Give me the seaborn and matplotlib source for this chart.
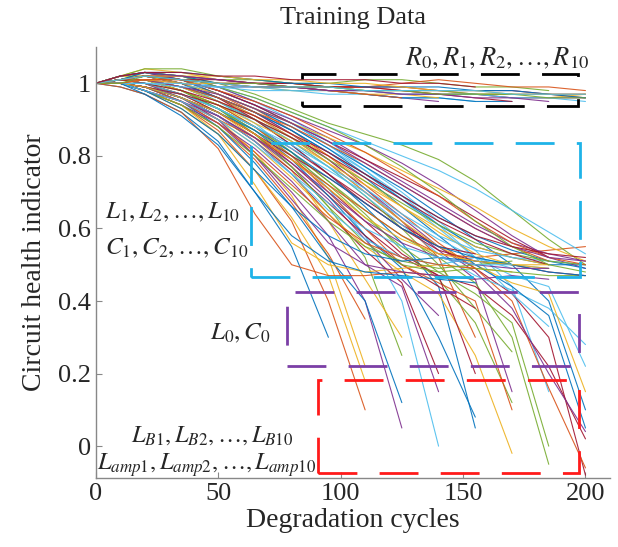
import pandas as pd
import matplotlib
matplotlib.use("Agg")
import matplotlib.pyplot as plt
import seaborn as sns
from matplotlib.patches import Rectangle

# ---------- style ----------
sns.set_style("ticks")
plt.rcParams["font.family"] = ["Liberation Serif", "DejaVu Serif"]
plt.rcParams["mathtext.fontset"] = "stix"

# ---------- data ----------
cycles = [0, 10, 20, 35, 50, 65, 80, 95, 110, 125, 140, 155, 170, 185, 200]

# resistor faults: stay close to 1
r_curves = [
    [1, 1.01, 1.02, 1.02, 1.01, 1.00, 1.00, 0.99, 0.99, 0.98, 0.98, 0.97, 0.97, 0.97, 0.96],
    [1, 1.02, 1.04, 1.03, 1.01, 1.00, 0.99, 0.99, 0.98, 0.98, 0.97, 0.97, 0.96, 0.96, 0.97],
    [1, 1.00, 1.01, 1.00, 0.99, 0.99, 0.99, 0.98, 0.97, 0.96, 0.95],
    [1, 1.01, 1.03, 1.02, 1.01, 1.01, 1.00, 1.00, 1.01, 1.01, 1.00, 0.99, 0.99, 0.98],
    [1, 1.00, 1.00, 0.99, 0.99, 0.98, 0.98, 0.97, 0.97, 0.96, 0.96, 0.95],
    [1, 1.01, 1.02, 1.01, 1.00, 1.00, 1.00, 0.99, 0.99, 0.99, 0.98, 0.98, 0.98, 0.97, 0.97],
    [1, 1.02, 1.03, 1.02, 1.00, 0.99, 0.99, 0.98, 0.97, 0.96, 0.96, 0.95, 0.95],
    [1, 1.01, 1.01, 1.01, 1.00, 1.00, 0.99, 0.99, 0.99, 1.00, 1.01, 1.00, 0.99, 0.99, 0.98],
    [1, 1.00, 1.01, 1.00, 1.00, 0.99, 0.98, 0.98, 0.97, 0.97, 0.96],
    [1, 1.01, 1.02, 1.02, 1.01, 1.00, 0.99, 0.98, 0.98, 0.97, 0.97, 0.97, 0.96, 0.96, 0.96],
    [1, 1.02, 1.04, 1.04, 1.02, 1.01, 1.00, 0.99, 0.98, 0.98, 0.98, 0.97, 0.97],
    [1, 1.00, 1.00, 1.00, 0.99, 0.99, 0.98, 0.98, 0.98, 0.97, 0.97, 0.97, 0.96, 0.96, 0.95],
    [1, 1.01, 1.02, 1.01, 1.01, 1.00, 1.00, 0.99, 0.99, 0.98, 0.97, 0.96, 0.95],
    [1, 1.01, 1.03, 1.03, 1.02, 1.01, 1.00, 1.00, 0.99, 0.99, 0.99, 0.98, 0.98, 0.97, 0.96],
    [1, 1.00, 1.01, 1.01, 1.00, 0.99, 0.99, 0.98, 0.97, 0.96],
    [1, 1.01, 1.02, 1.02, 1.02, 1.01, 1.01, 1.00, 1.00, 0.99, 0.98, 0.98, 0.97, 0.97, 0.97],
    [1, 1.02, 1.03, 1.02, 1.01, 1.00, 0.99, 0.98, 0.98, 0.97, 0.97, 0.96, 0.96, 0.95],
    [1, 1.00, 1.02, 1.01, 1.00, 1.00, 0.99, 0.99, 0.98, 0.98, 0.97, 0.97, 0.97, 0.96, 0.96],
    [1, 1.01, 1.02, 1.01, 1.00, 0.99, 0.99, 0.99, 0.98, 0.98, 0.98, 0.98, 0.97, 0.97, 0.97],
    [1, 1.02, 1.03, 1.03, 1.02, 1.02, 1.01, 1.01, 1.01, 1.00, 1.00, 0.99],
]

# inductor / capacitor faults: level off around 0.5
lc_curves = [
    [1, 0.99, 0.97, 0.92, 0.82, 0.64, 0.50, 0.47, 0.47, 0.48, 0.47, 0.46],
    [1, 1.00, 0.98, 0.94, 0.86, 0.72, 0.56, 0.50, 0.48, 0.49, 0.50, 0.49, 0.48],
    [1, 1.01, 1.00, 0.96, 0.90, 0.80, 0.68, 0.56, 0.50, 0.48, 0.47, 0.46, 0.47, 0.46],
    [1, 1.01, 1.01, 0.98, 0.93, 0.86, 0.77, 0.66, 0.56, 0.50, 0.48, 0.49, 0.48, 0.47, 0.47],
    [1, 1.00, 0.99, 0.96, 0.91, 0.84, 0.75, 0.65, 0.57, 0.52, 0.50, 0.52, 0.50, 0.49],
    [1, 1.01, 1.02, 1.00, 0.96, 0.90, 0.83, 0.75, 0.67, 0.60, 0.54, 0.51, 0.50, 0.48, 0.47],
    [1, 1.02, 1.03, 1.01, 0.97, 0.93, 0.88, 0.82, 0.75, 0.68, 0.61, 0.55, 0.52, 0.50, 0.50],
    [1, 1.00, 0.98, 0.95, 0.90, 0.85, 0.79, 0.72, 0.65, 0.58, 0.53, 0.52, 0.53, 0.54, 0.55],
    [1, 1.01, 1.01, 0.99, 0.95, 0.91, 0.86, 0.80, 0.73, 0.66, 0.59, 0.53, 0.50, 0.49],
    [1, 1.01, 1.02, 1.02, 0.99, 0.95, 0.91, 0.87, 0.83, 0.78, 0.72, 0.65, 0.58, 0.52, 0.49],
    [1, 1.02, 1.03, 1.02, 1.00, 0.97, 0.93, 0.89, 0.86, 0.83, 0.79, 0.73, 0.65, 0.57, 0.50],
    [1, 1.00, 0.99, 0.97, 0.93, 0.88, 0.82, 0.76, 0.70, 0.63, 0.57, 0.52, 0.49],
    [1, 1.01, 1.00, 0.97, 0.92, 0.86, 0.80, 0.74, 0.67, 0.60, 0.55, 0.53],
    [1, 1.01, 1.02, 1.00, 0.96, 0.92, 0.87, 0.81, 0.75, 0.69, 0.63, 0.58, 0.54, 0.51, 0.49],
    [1, 1.00, 0.99, 0.95, 0.89, 0.81, 0.72, 0.63, 0.56, 0.52, 0.50, 0.49],
    [1, 1.01, 1.01, 0.98, 0.94, 0.89, 0.84, 0.78, 0.72, 0.66, 0.60, 0.55, 0.52, 0.50],
    [1, 1.02, 1.03, 1.01, 0.98, 0.94, 0.90, 0.85, 0.79, 0.73, 0.67, 0.61, 0.56, 0.53, 0.51],
    [1, 1.00, 0.98, 0.94, 0.88, 0.80, 0.71, 0.62, 0.55, 0.51, 0.49, 0.50, 0.51],
    [1, 1.01, 1.00, 0.97, 0.93, 0.88, 0.83, 0.77, 0.71, 0.64, 0.58, 0.54, 0.52, 0.51, 0.50],
    [1, 1.01, 1.02, 1.01, 0.98, 0.94, 0.89, 0.84, 0.79, 0.74, 0.69, 0.63, 0.57, 0.52],
    [1, 1.00, 0.99, 0.96, 0.92, 0.87, 0.81, 0.74, 0.67, 0.60, 0.55, 0.52, 0.50, 0.48, 0.47],
    [1, 1.01, 1.01, 0.99, 0.96, 0.92, 0.88, 0.83, 0.78, 0.72, 0.66, 0.60, 0.55, 0.51],
    [1, 1.02, 1.02, 1.00, 0.97, 0.93, 0.89, 0.85, 0.81, 0.76, 0.71, 0.66, 0.60, 0.55, 0.51],
    [1, 1.00, 0.98, 0.95, 0.91, 0.85, 0.78, 0.70, 0.62, 0.56, 0.52, 0.50, 0.49, 0.49],
    [1, 1.01, 1.00, 0.98, 0.94, 0.90, 0.85, 0.79, 0.73, 0.67, 0.61, 0.56, 0.53, 0.51, 0.50],
    [1, 1.01, 1.02, 1.01, 0.99, 0.96, 0.92, 0.88, 0.84, 0.80, 0.76, 0.71, 0.65, 0.59, 0.53],
    [1, 1.00, 0.99, 0.97, 0.94, 0.90, 0.85, 0.80, 0.74, 0.68, 0.62, 0.57, 0.53, 0.50],
    [1, 1.00, 0.98, 0.93, 0.86, 0.76, 0.66, 0.58, 0.53, 0.51, 0.52, 0.51, 0.50],
    [1, 1.01, 1.02, 1.01, 0.98, 0.95, 0.91, 0.86, 0.81, 0.75, 0.69, 0.62, 0.56, 0.52, 0.50],
    [1, 1.00, 0.99, 0.96, 0.92, 0.86, 0.79, 0.71, 0.63, 0.57, 0.53, 0.51, 0.50, 0.50],
    [1, 1.01, 1.01, 0.99, 0.97, 0.93, 0.89, 0.84, 0.78, 0.72, 0.66, 0.60, 0.55, 0.52, 0.51],
    [1, 1.02, 1.03, 1.02, 0.99, 0.96, 0.92, 0.88, 0.83, 0.77, 0.70, 0.62, 0.55, 0.50, 0.48],
    [1, 1.00, 0.98, 0.95, 0.90, 0.83, 0.75, 0.67, 0.60, 0.55, 0.52, 0.50, 0.50],
    [1, 1.01, 1.00, 0.98, 0.95, 0.91, 0.86, 0.81, 0.75, 0.69, 0.63, 0.58, 0.55, 0.53, 0.52],
    [1, 1.00, 0.97, 0.91, 0.83, 0.70, 0.58, 0.51, 0.48, 0.47, 0.46, 0.45],
]

# L0/C0 and amplifier / bias faults: collapse towards 0
drop_curves = [
    [1, 0.99, 0.97, 0.92, 0.84, 0.70, 0.55, 0.30],
    [1, 1.00, 0.98, 0.94, 0.87, 0.76, 0.62, 0.40, 0.10],
    [1, 1.01, 1.00, 0.96, 0.90, 0.81, 0.69, 0.52, 0.22],
    [1, 1.00, 0.99, 0.95, 0.89, 0.80, 0.70, 0.58, 0.40, 0.05],
    [1, 1.01, 1.01, 0.98, 0.93, 0.86, 0.77, 0.66, 0.52, 0.25],
    [1, 1.01, 1.02, 1.00, 0.95, 0.89, 0.81, 0.71, 0.58, 0.40, 0.00],
    [1, 1.00, 0.99, 0.96, 0.91, 0.84, 0.75, 0.64, 0.54, 0.45, 0.20],
    [1, 1.01, 1.01, 0.99, 0.95, 0.90, 0.83, 0.75, 0.66, 0.56, 0.44, 0.05],
    [1, 1.02, 1.03, 1.01, 0.97, 0.92, 0.86, 0.79, 0.71, 0.62, 0.52, 0.30],
    [1, 1.00, 0.98, 0.95, 0.90, 0.83, 0.74, 0.64, 0.55, 0.48, 0.42, 0.25, -0.02],
    [1, 1.01, 1.02, 1.00, 0.96, 0.91, 0.85, 0.78, 0.70, 0.62, 0.54, 0.46, 0.15],
    [1, 1.01, 1.01, 0.98, 0.94, 0.88, 0.81, 0.73, 0.65, 0.58, 0.52, 0.45, 0.30, -0.05],
    [1, 1.02, 1.03, 1.02, 0.99, 0.95, 0.90, 0.84, 0.77, 0.70, 0.62, 0.54, 0.44, 0.15],
    [1, 1.00, 0.99, 0.97, 0.93, 0.88, 0.82, 0.75, 0.68, 0.61, 0.55, 0.49, 0.42, 0.30, -0.08],
    [1, 1.01, 1.02, 1.01, 0.98, 0.94, 0.89, 0.83, 0.77, 0.71, 0.64, 0.57, 0.50, 0.40, 0.10],
    [1, 1.00, 0.98, 0.94, 0.88, 0.79, 0.67, 0.53, 0.35],
    [1, 1.01, 1.00, 0.97, 0.92, 0.85, 0.76, 0.62, 0.46, 0.30],
    [1, 1.00, 0.99, 0.96, 0.91, 0.85, 0.77, 0.68, 0.57, 0.46, 0.36],
    [1, 1.01, 1.01, 0.99, 0.95, 0.90, 0.84, 0.77, 0.69, 0.60, 0.50, 0.38, 0.26],
    [1, 1.02, 1.02, 1.00, 0.97, 0.93, 0.88, 0.82, 0.76, 0.69, 0.61, 0.52, 0.42, 0.33],
    [1, 1.00, 0.99, 0.96, 0.92, 0.86, 0.78, 0.69, 0.60, 0.52, 0.47, 0.44, 0.36, 0.22, 0.02],
    [1, 1.01, 1.01, 0.98, 0.93, 0.87, 0.79, 0.69, 0.58, 0.49, 0.30, 0.08],
    [1, 1.01, 1.02, 1.01, 0.97, 0.93, 0.87, 0.80, 0.72, 0.64, 0.56, 0.49, 0.40, 0.16, -0.06],
    [1, 1.00, 0.98, 0.93, 0.86, 0.76, 0.63, 0.47, 0.18],
    [1, 1.01, 1.02, 1.00, 0.96, 0.92, 0.86, 0.79, 0.71, 0.63, 0.55, 0.48, 0.38, 0.20, 0.04],
    [1, 1.00, 0.99, 0.97, 0.93, 0.88, 0.81, 0.73, 0.64, 0.54, 0.46, 0.34, 0.12],
    [1, 1.01, 1.01, 0.99, 0.95, 0.90, 0.84, 0.77, 0.69, 0.61, 0.53, 0.47, 0.43, 0.38, 0.28],
    [1, 1.00, 0.99, 0.96, 0.91, 0.84, 0.76, 0.67, 0.58, 0.50, 0.44, 0.38],
    [1, 1.00, 0.99, 0.95, 0.88, 0.78, 0.66, 0.52, 0.40, 0.12],
    [1, 1.01, 1.01, 0.98, 0.94, 0.88, 0.80, 0.70, 0.60, 0.50, 0.45, 0.40, 0.10],
    [1, 1.02, 1.02, 1.00, 0.96, 0.91, 0.85, 0.78, 0.70, 0.62, 0.55, 0.50, 0.45, 0.42, 0.15],
    [1, 1.00, 0.98, 0.94, 0.89, 0.82, 0.73, 0.62, 0.50, 0.44, 0.15],
    [1, 1.01, 1.00, 0.97, 0.93, 0.87, 0.80, 0.72, 0.63, 0.55, 0.48, 0.42, 0.34, 0.00],
    [1, 1.01, 1.02, 1.01, 0.98, 0.94, 0.89, 0.83, 0.76, 0.68, 0.60, 0.52, 0.47, 0.44, 0.22],
    [1, 1.00, 0.99, 0.96, 0.92, 0.86, 0.79, 0.71, 0.62, 0.53, 0.47, 0.20],
    [1, 1.01, 1.01, 0.99, 0.96, 0.92, 0.87, 0.81, 0.74, 0.66, 0.58, 0.50, 0.44, 0.36, 0.05],
]

matlab_colors = ["#0072BD", "#D95319", "#EDB120", "#7E2F8E",
                 "#77AC30", "#4DBEEE", "#A2142F"]

# ---------- long table ----------
all_curves = drop_curves + lc_curves + r_curves
rows = []
for i, vals in enumerate(all_curves):
    for c, v in zip(cycles, vals):
        rows.append({"curve": f"c{i:03d}", "cycle": c, "hi": v})
df = pd.DataFrame(rows)
palette = [matlab_colors[i % len(matlab_colors)] for i in range(len(all_curves))]

# ---------- plot ----------
fig = plt.figure(figsize=(6.18, 5.47), dpi=100)
ax = fig.add_axes([0.155, 0.126, 0.832, 0.788])

sns.lineplot(data=df, x="cycle", y="hi", hue="curve", palette=palette,
             units="curve", estimator=None, sort=False, legend=False,
             lw=0.8, alpha=0.9, ax=ax)

# fault-group boxes
boxes = [
    (84.4, 0.937, 197.0, 1.026, "black"),
    (63.3, 0.467, 197.6, 0.836, "#1FB3E8"),
    (78.1, 0.220, 197.2, 0.426, "#7B3FA6"),
    (90.8, -0.074, 197.2, 0.183, "#FF1A1A"),
]
for x0, y0, x1, y1, col in boxes:
    ax.add_patch(Rectangle((x0, y0), x1 - x0, y1 - y0, fill=False,
                           ec=col, lw=2, ls=(0, (14, 8)), zorder=5))

ax.text(201.5, 1.07, r"$R_0, R_1, R_2, \ldots, R_{10}$", ha="right", va="center", fontsize=19)
ax.text(3.8, 0.644, r"$L_1, L_2, \ldots, L_{10}$", ha="left", va="center", fontsize=18)
ax.text(3.8, 0.545, r"$C_1, C_2, \ldots, C_{10}$", ha="left", va="center", fontsize=18)
ax.text(71.5, 0.31, r"$L_0, C_0$", ha="right", va="center", fontsize=18)
ax.text(80.5, 0.03, r"$L_{B1}, L_{B2}, \ldots, L_{B10}$", ha="right", va="center", fontsize=17.5)
ax.text(0.4, -0.053, r"$L_{amp1}, L_{amp2}, \ldots, L_{amp10}$", ha="left", va="center", fontsize=17.5)

ax.set_xlim(0, 210)
ax.set_ylim(-0.088, 1.1)
ax.set_xticks([0, 50, 100, 150, 200])
ax.set_yticks([0, 0.2, 0.4, 0.6, 0.8, 1])
ax.set_yticklabels(["0", "0.2", "0.4", "0.6", "0.8", "1"])
ax.tick_params(direction="in", length=4, width=0.8, labelsize=19, color="#888888")
for side in ["top", "right"]:
    ax.spines[side].set_visible(False)
for side in ["left", "bottom"]:
    ax.spines[side].set_color("#888888")
    ax.spines[side].set_linewidth(1.0)

ax.set_xlabel("Degradation cycles", fontsize=20, labelpad=2)
ax.set_ylabel("Circuit health indicator", fontsize=20, labelpad=8)
fig.text(0.571, 1 - 18 / 547, "Training Data", ha="center", va="center", fontsize=19)

fig.savefig("out.png", dpi=100)
